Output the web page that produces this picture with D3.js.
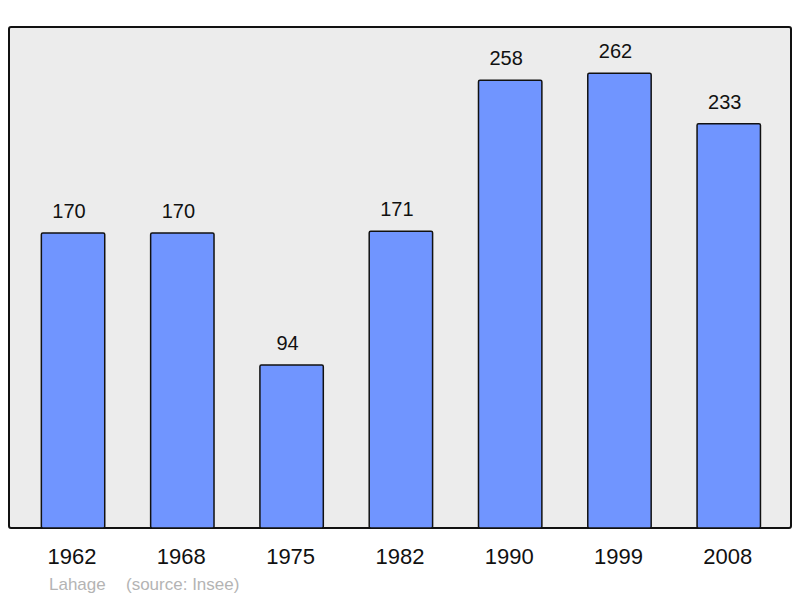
<!DOCTYPE html>
<html>
<head>
<meta charset="utf-8">
<script src="https://cdn.jsdelivr.net/npm/d3@7"></script>
<style>
  body { margin: 0; background: #fff; }
  svg { display: block; font-family: "Liberation Sans", Arial, sans-serif; }
</style>
</head>
<body>
<div id="chart"></div>
<script>
// Population data
const years = ['1962', '1968', '1975', '1982', '1990', '1999', '2008'];
const population = [170, 170, 94, 171, 258, 262, 233];
const commune = 'Lahage';
const source = '(source: Insee)';

const width = 800, height = 598;
const panel = { left: 9, top: 27, right: 791, bottom: 528 };

const svg = d3.select('#chart')
    .append('svg')
    .attr('width', width)
    .attr('height', height);

// Background panel
svg.append('rect')
    .attr('x', panel.left)
    .attr('y', panel.top)
    .attr('width', panel.right - panel.left)
    .attr('height', panel.bottom - panel.top)
    .attr('rx', 2)
    .attr('fill', '#ececec')
    .attr('stroke', '#111')
    .attr('stroke-width', 2);

// Scales
const x = d3.scaleBand()
    .domain(years)
    .range([18.4, 783.4])
    .paddingInner(0.42)
    .paddingOuter(0.21);

const y = d3.scaleLinear()
    .domain([0, 170])
    .range([panel.bottom, 233]);

// Bars
svg.selectAll('.bar')
    .data(population)
    .enter()
    .append('rect')
    .attr('class', 'bar')
    .attr('x', (d, i) => x(years[i]))
    .attr('y', d => y(d))
    .attr('width', x.bandwidth())
    .attr('height', d => y(0) - y(d))
    .attr('rx', 1.5)
    .attr('fill', '#7095ff')
    .attr('stroke', '#111')
    .attr('stroke-width', 1.5);

// Value labels (sit a little left of the bar centre, as in the original)
svg.selectAll('.value')
    .data(population)
    .enter()
    .append('text')
    .attr('class', 'value')
    .attr('x', (d, i) => x(years[i]) + x.bandwidth() / 2 - 4)
    .attr('y', d => y(d) - 15)
    .attr('text-anchor', 'middle')
    .attr('font-size', 20)
    .attr('fill', '#111')
    .text(d => d);

// Year axis labels
const xAxis = d3.axisBottom(x).tickSize(0).tickPadding(0);
const axisG = svg.append('g')
    .attr('transform', `translate(0,${panel.bottom})`)
    .call(xAxis);
axisG.select('.domain').remove();
axisG.selectAll('text')
    .attr('dy', null)
    .attr('x', -1)
    .attr('y', 36)
    .attr('font-size', 22)
    .attr('font-family', '"Liberation Sans", Arial, sans-serif')
    .attr('fill', '#111');

// Footer
svg.append('text')
    .attr('x', 49)
    .attr('y', 590)
    .attr('font-size', 17)
    .attr('fill', '#b4b4b4')
    .text(commune);

svg.append('text')
    .attr('x', 126)
    .attr('y', 590)
    .attr('font-size', 17)
    .attr('fill', '#b4b4b4')
    .text(source);
</script>
</body>
</html>
